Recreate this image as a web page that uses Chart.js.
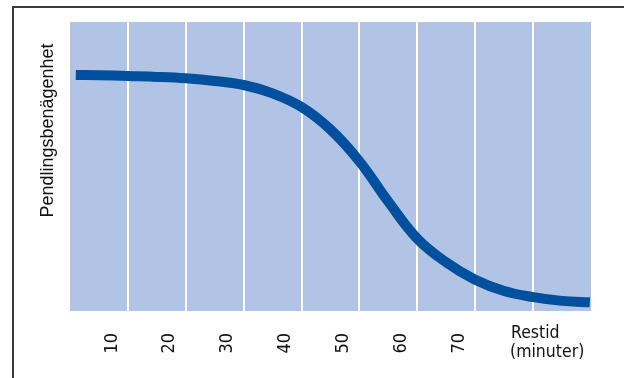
<!DOCTYPE html>
<html><head><meta charset="utf-8">
<script src="https://cdn.jsdelivr.net/npm/chart.js@4"></script>
<style>
html,body{margin:0;padding:0;background:#fff;}
#wrap{position:relative;width:624px;height:378px;overflow:hidden;}
#frame{position:absolute;left:12px;top:6px;width:700px;height:500px;border-left:2px solid #3a3a3a;border-top:2px solid #3a3a3a;}
canvas{position:absolute;left:0;top:0;}
</style></head><body>
<div id="wrap"><div id="frame"></div><canvas id="c" width="624" height="378"></canvas></div>
<script>
// Travel time (minutes) and commuting propensity (relative, 0-100)
const timeMinutes = [1.0, 5, 10, 15, 20, 25, 30, 35, 40, 45, 50, 55, 60, 65, 70, 75, 80, 85, 89.8];
const propensity  = [81.7, 81.6, 81.3, 81.0, 80.5, 79.6, 78.2, 75.3, 70.6, 62.8, 51.8, 37.8, 25.0, 16.8, 10.8, 6.9, 4.8, 3.5, 3.0];
const tickValues = [10, 20, 30, 40, 50, 60, 70];
const tickLabels = ['10', '20', '30', '40', '50', '60', '70'];
const gridValues = [10, 20, 30, 40, 50, 60, 70, 80];
const yTitle = 'Pendlingsbenägenhet';
const xTitle = ['Restid', '(minuter)'];

const NARROW = "'DejaVu Sans Condensed','Liberation Sans Narrow','Liberation Sans',sans-serif";
const REGULAR = "'Liberation Sans',Arial,sans-serif";

const bgPlugin = {
  id: 'plotBg',
  beforeDraw(chart) {
    const {ctx, chartArea: a} = chart;
    ctx.save();
    ctx.fillStyle = '#b1c4e6';
    ctx.fillRect(a.left, a.top, a.right - a.left, a.bottom - a.top);
    ctx.restore();
  }
};
const textPlugin = {
  id: 'axisText',
  afterDraw(chart) {
    const {ctx, chartArea: a} = chart;
    ctx.save();
    ctx.fillStyle = '#111';
    ctx.font = '18px ' + REGULAR;
    ctx.translate(a.left - 22, a.top + 108.5);
    ctx.rotate(-Math.PI / 2);
    ctx.textAlign = 'center';
    ctx.textBaseline = 'middle';
    ctx.fillText(yTitle, 0, 0);
    ctx.restore();
    ctx.save();
    ctx.fillStyle = '#111';
    ctx.font = '17.5px ' + NARROW;
    ctx.textAlign = 'left';
    ctx.textBaseline = 'alphabetic';
    ctx.fillText(xTitle[0], a.right - 80, a.bottom + 27);
    ctx.fillText(xTitle[1], a.right - 81, a.bottom + 46);
    ctx.restore();
  }
};

new Chart(document.getElementById('c'), {
  type: 'line',
  data: {
    datasets: [{
      data: timeMinutes.map((t, i) => ({x: t, y: propensity[i]})),
      borderColor: '#00509e',
      borderWidth: 10,
      borderCapStyle: 'butt',
      pointRadius: 0,
      fill: false,
      tension: 0.4
    }]
  },
  options: {
    responsive: false,
    animation: false,
    layout: {padding: {left: 70, right: 33, top: 22, bottom: 0}},
    plugins: {legend: {display: false}, tooltip: {enabled: false}},
    scales: {
      x: {
        type: 'linear', min: 0, max: 90,
        border: {display: false},
        grid: {
          drawTicks: false,
          lineWidth: 2,
          color: c => (c.tick && gridValues.includes(c.tick.value)) ? '#ffffff' : 'rgba(0,0,0,0)'
        },
        ticks: {
          stepSize: 10, autoSkip: false, maxRotation: 90, minRotation: 90,
          labelOffset: -16, padding: 22, color: '#111',
          font: {family: NARROW, size: 18},
          callback: v => tickValues.includes(v) ? tickLabels[tickValues.indexOf(v)] : ''
        },
        afterFit: s => { s.height = 67; s.paddingLeft = 0; s.paddingRight = 0; }
      },
      y: {type: 'linear', min: 0, max: 100, display: false}
    }
  },
  plugins: [bgPlugin, textPlugin]
});
</script>
</body></html>
